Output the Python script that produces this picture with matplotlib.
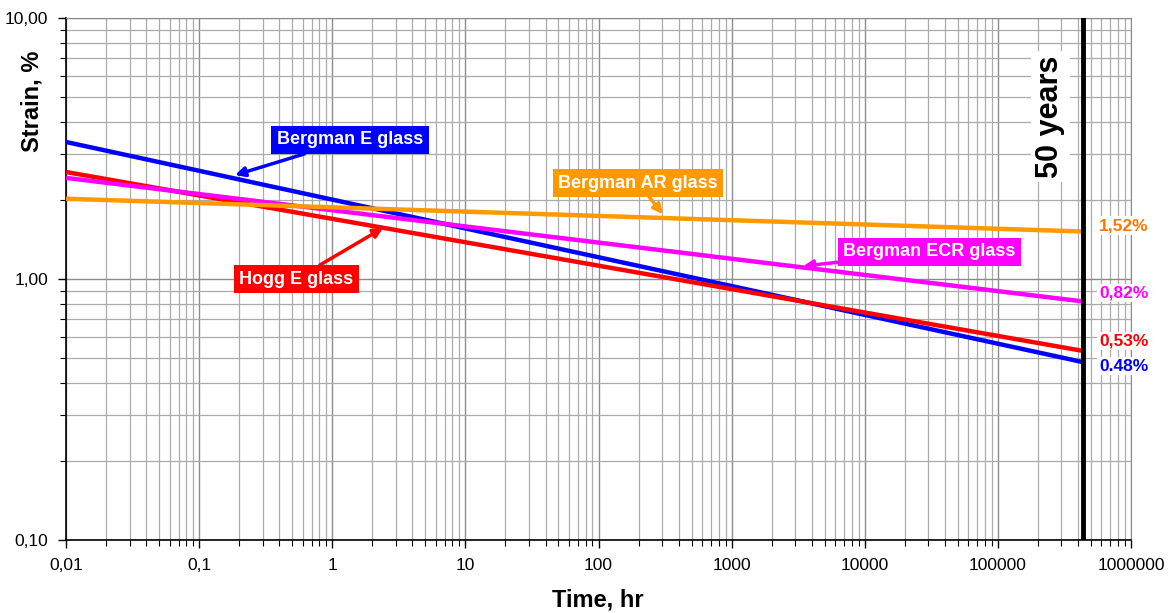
import matplotlib
matplotlib.use('Agg')
import matplotlib.pyplot as plt
from matplotlib.ticker import FixedLocator, FixedFormatter, NullFormatter, LogLocator

plt.rcParams['font.family'] = ['Liberation Sans', 'DejaVu Sans']

# time span: 0.01 hr up to 50 years
t_start = 0.01
t_50y = 50 * 8760

names = ['Bergman E glass', 'Hogg E glass', 'Bergman ECR glass', 'Bergman AR glass']
colors = ['#0000FF', '#FF0000', '#FF00FF', '#FF9900']
strain_start = [3.35, 2.57, 2.44, 2.03]
strain_50y = [0.48, 0.53, 0.82, 1.52]

end_labels = ['0.48%', '0,53%', '0,82%', '1,52%']
end_label_colors = ['#0000FF', '#FF0000', '#FF00FF', '#FF7700']
end_label_y = [0.464, 0.579, 0.884, 1.60]

# annotation: arrow tip (x, y), box centre (x, y)
arrow_tip = [(0.186, 2.50), (2.41, 1.57), (3440, 1.12), (305, 1.77)]
box_pos = [(1.36, 3.41), (0.535, 1.0), (30500, 1.27), (198, 2.33)]

x_ticks = [0.01, 0.1, 1, 10, 100, 1000, 10000, 100000, 1000000]
x_ticklabels = ['0,01', '0,1', '1', '10', '100', '1000', '10000', '100000', '1000000']
y_ticks = [0.1, 1, 10]
y_ticklabels = ['0,10', '1,00', '10,00']

fig = plt.figure(figsize=(11.7, 6.13), dpi=100)
ax = fig.add_axes([66 / 1170, 1 - 540 / 613, (1131 - 66) / 1170, (540 - 18) / 613])
ax.set_xscale('log')
ax.set_yscale('log')
ax.set_xlim(0.01, 1e6)
ax.set_ylim(0.1, 10)

ax.grid(True, which='major', color='#8c8c8c', lw=1.0, zorder=0)
ax.grid(True, which='minor', color='#ababab', lw=0.9, zorder=0)
ax.set_axisbelow(True)

for i in range(len(names)):
    ax.plot([t_start, t_50y], [strain_start[i], strain_50y[i]], color=colors[i], lw=3.2,
            solid_capstyle='butt', zorder=3)

ax.axvline(t_50y, color='black', lw=3.5, zorder=4)

for i in range(len(names)):
    ax.annotate(names[i], xy=arrow_tip[i], xytext=box_pos[i], textcoords='data',
                ha='center', va='center', color='white', fontsize=13, fontweight='bold',
                bbox=dict(boxstyle='square,pad=0.3', fc=colors[i], ec='none'),
                arrowprops=dict(arrowstyle='-|>', color=colors[i], lw=2.5,
                                mutation_scale=14, shrinkA=0, shrinkB=0),
                zorder=5)

for i in range(len(end_labels)):
    ax.text(577000, end_label_y[i], end_labels[i], color=end_label_colors[i], fontsize=12.5,
            fontweight='bold', ha='left', va='center', zorder=5,
            bbox=dict(boxstyle='square,pad=0.1', fc='white', ec='none'))

ax.text(247000, 4.2, '50 years', rotation=90, ha='center', va='center', fontsize=22,
        fontweight='bold', family=['Liberation Sans Narrow', 'Liberation Sans', 'DejaVu Sans'],
        zorder=5, bbox=dict(boxstyle='square,pad=0.15', fc='white', ec='none'))

ax.xaxis.set_major_locator(FixedLocator(x_ticks))
ax.xaxis.set_major_formatter(FixedFormatter(x_ticklabels))
ax.xaxis.set_minor_locator(LogLocator(base=10, subs=range(2, 10), numticks=20))
ax.xaxis.set_minor_formatter(NullFormatter())
ax.yaxis.set_major_locator(FixedLocator(y_ticks))
ax.yaxis.set_major_formatter(FixedFormatter(y_ticklabels))
ax.yaxis.set_minor_locator(LogLocator(base=10, subs=range(2, 10), numticks=20))
ax.yaxis.set_minor_formatter(NullFormatter())

ax.tick_params(which='major', direction='out', length=6, width=1, labelsize=12.5, pad=7)
ax.tick_params(which='minor', direction='out', length=4, width=0.8)

ax.spines['top'].set_color('#8c8c8c')
ax.spines['right'].set_color('#8c8c8c')
ax.spines['left'].set_linewidth(1.2)
ax.spines['bottom'].set_linewidth(1.2)

fig.text(598 / 1170, 1 - 600 / 613, 'Time, hr', ha='center', va='center', fontsize=17,
         fontweight='bold')
fig.text(32 / 1170, 1 - 101 / 613, 'Strain, %', ha='center', va='center', fontsize=17,
         fontweight='bold', rotation=90)

fig.savefig('out.png', dpi=100)
